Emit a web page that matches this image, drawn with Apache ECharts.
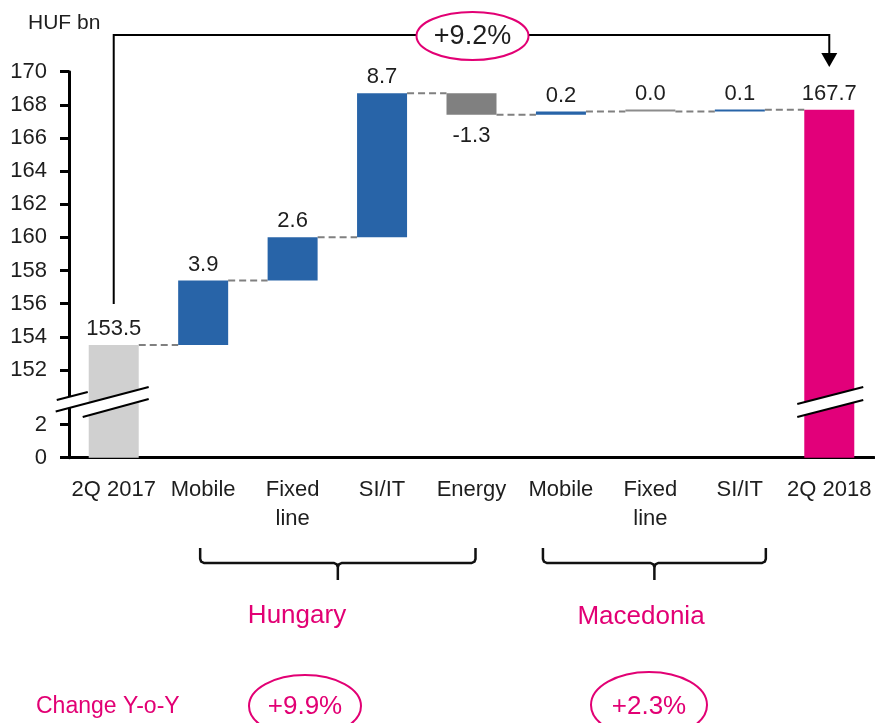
<!DOCTYPE html>
<html><head><meta charset="utf-8">
<script src="https://cdn.jsdelivr.net/npm/echarts@6/dist/echarts.min.js"></script>
<style>html,body{margin:0;padding:0;background:#fff}#c{width:875px;height:723px}</style>
</head><body><div id="c"></div>
<script>
// ---- data ----
const categories = ['2Q 2017','Mobile','Fixed\nline','SI/IT','Energy','Mobile','Fixed\nline','SI/IT','2Q 2018'];
const values = [153.5, 3.9, 2.6, 8.7, -1.3, 0.2, 0.0, 0.1, 167.7];
const kinds = ['start','delta','delta','delta','delta','delta','delta','delta','end'];
const yTickLabels = [0, 2, 152, 154, 156, 158, 160, 162, 164, 166, 168, 170];
const groupNames = ['Hungary', 'Macedonia'];
const groupChanges = ['+9.9%', '+2.3%'];
const totalChange = '+9.2%';
const unitLabel = 'HUF bn';
const changeLabel = 'Change Y-o-Y';

// ---- broken axis transform ----
const BREAK_FROM = 2, BREAK_TO = 152, BREAK_POS = 5.3;
function tr(v){
  if (v <= BREAK_FROM) return v;
  if (v >= BREAK_TO) return v - BREAK_TO + BREAK_POS;
  return BREAK_FROM + (v - BREAK_FROM) * (BREAK_POS - BREAK_FROM) / (BREAK_TO - BREAK_FROM);
}
const tickT = yTickLabels.map(tr);

const FONT = '"Liberation Sans", Arial, sans-serif';
const MAGENTA = '#E20074';
const COLORS = {start:'#D0D0D0', up:'#2864A8', down:'#808080', zero:'#8C8C8C', end:'#E2007A'};

// build waterfall rows
let running = 0;
const rows = values.map((v, i) => {
  let lo, hi;
  if (kinds[i] === 'start' || kinds[i] === 'end') { lo = 0; hi = v; running = v; }
  else { lo = Math.min(running, running + v); hi = Math.max(running, running + v); running = running + v; }
  return {i, v, lo: tr(lo), hi: tr(hi), level: tr(running), kind: kinds[i]};
});
function colorFor(r){
  if (r.kind === 'start') return COLORS.start;
  if (r.kind === 'end') return COLORS.end;
  if (r.v > 0) return COLORS.up;
  if (r.v < 0) return COLORS.down;
  return COLORS.zero;
}
const BAR_W = 50;

function renderItem(params, api){
  const i = params.dataIndex;
  const r = rows[i];
  const top = api.coord([i, r.hi]);
  const bot = api.coord([i, r.lo]);
  let y = top[1], h = bot[1] - top[1];
  if (h < 2) { y = bot[1] - 2; h = 2; }
  const children = [];
  if (i < rows.length - 1) {
    const a = api.coord([i, r.level]);
    const b = api.coord([i + 1, r.level]);
    children.push({type:'line', shape:{x1:a[0] + BAR_W/2, y1:a[1], x2:b[0] - BAR_W/2, y2:b[1]},
      style:{stroke:'#808080', lineWidth:2, lineDash:[7,4]}});
  }
  children.push({type:'rect', shape:{x: top[0] - BAR_W/2, y: y, width: BAR_W, height: h}, style:{fill: colorFor(r)}});
  const neg = r.v < 0;
  children.push({type:'text', style:{text: r.v.toFixed(1), x: top[0], y: neg ? bot[1] + 10 : y - 5,
    align:'center', verticalAlign: neg ? 'top' : 'bottom', fill:'#1e1e1e', font: '22px ' + FONT}});
  return {type:'group', children};
}

const chart = echarts.init(document.getElementById('c'), null, {renderer:'canvas'});
chart.setOption({
  animation: false,
  backgroundColor: '#fff',
  grid: {left: 69, right: 1, top: 71.7, bottom: 265.3},
  xAxis: {
    type: 'category', data: categories,
    axisLine: {lineStyle: {color: '#000', width: 3}},
    axisTick: {show: false},
    axisLabel: {color: '#1e1e1e', fontFamily: FONT, fontSize: 22, lineHeight: 29, margin: 18, interval: 0}
  },
  yAxis: {
    type: 'value', min: 0, max: tr(170),
    splitLine: {show: false},
    axisLine: {show: true, lineStyle: {color: '#000', width: 3}},
    axisTick: {show: true, length: 9, lineStyle: {color: '#000', width: 3}, customValues: tickT},
    axisLabel: {color: '#1e1e1e', fontFamily: FONT, fontSize: 22, margin: 22, customValues: tickT,
      formatter: (val) => {
        let best = 0, bd = 1e9;
        tickT.forEach((tv, k) => { const d = Math.abs(tv - val); if (d < bd) { bd = d; best = k; } });
        return String(yTickLabels[best]);
      }}
  },
  series: [{
    type: 'custom', renderItem,
    data: rows.map(r => [r.i, r.lo, r.hi]),
    encode: {x: 0, y: [1, 2]},
    z: 2
  }]
});

// ---- annotations ----
function px(ci, v){ return chart.convertToPixel({gridIndex: 0}, [ci, v]); }
const g = [];
g.push({type:'text', x: 28, y: 23, style:{text: unitLabel, font: '21px ' + FONT, fill:'#1e1e1e', align:'left', verticalAlign:'middle'}, z: 10});

// top arrow
const p0 = px(0, tr(values[0]));
const pN = px(categories.length - 1, tr(values[values.length - 1]));
const topY = 35;
g.push({type:'polyline', shape:{points:[[p0[0], p0[1] - 41],[p0[0], topY],[pN[0], topY],[pN[0], 54]]},
  style:{stroke:'#000', lineWidth:2, fill: null}, z: 10});
g.push({type:'polygon', shape:{points:[[pN[0]-8, 53],[pN[0]+8, 53],[pN[0], 67]]}, style:{fill:'#000'}, z: 10});
const pMid = px(4, 0);
g.push({type:'ellipse', shape:{cx: pMid[0] + 1, cy: 36, rx: 56, ry: 24}, style:{fill:'#fff', stroke: MAGENTA, lineWidth: 2}, z: 11});
g.push({type:'text', x: pMid[0] + 1, y: 37, style:{text: totalChange, font: '27px ' + FONT, fill:'#1e1e1e', align:'center', verticalAlign:'middle'}, z: 12});

// axis break marks
const bk = px(0, 3.3);
const bx = bk[0], by = bk[1];
function P(pts){ return pts.map(p => [bx + p[0], by + p[1]]); }
g.push({type:'polygon', shape:{points: P([[-57,-3],[-26,-11],[-26,0.5],[-57,8.5]])}, style:{fill:'#fff'}, z: 20});
g.push({type:'polygon', shape:{points: P([[-31,1.5],[35,-15.5],[35,-4],[-31,14]])}, style:{fill:'#fff'}, z: 20});
g.push({type:'line', shape:{x1:bx-57, y1:by-3, x2:bx-26, y2:by-11}, style:{stroke:'#000', lineWidth:2}, z: 21});
g.push({type:'line', shape:{x1:bx-58, y1:by+8.5, x2:bx+35, y2:by-16}, style:{stroke:'#000', lineWidth:2}, z: 21});
g.push({type:'line', shape:{x1:bx-31, y1:by+14, x2:bx+35, y2:by-4}, style:{stroke:'#000', lineWidth:2}, z: 21});
const ek = px(categories.length - 1, 3.3);
const ex = ek[0], ey = ek[1];
g.push({type:'polygon', shape:{points:[[ex-32, ey+1],[ex+34, ey-16],[ex+34, ey-3],[ex-32, ey+14]]}, style:{fill:'#fff'}, z: 20});
g.push({type:'line', shape:{x1:ex-32, y1:ey+1, x2:ex+34, y2:ey-16}, style:{stroke:'#000', lineWidth:2}, z: 21});
g.push({type:'line', shape:{x1:ex-32, y1:ey+14, x2:ex+34, y2:ey-3}, style:{stroke:'#000', lineWidth:2}, z: 21});

// group brackets (polylines with softened corners)
function bracket(x1, x2){
  const xm = (x1 + x2) / 2;
  const yt = 548, yh = 563, yb = 580;
  const st = {stroke:'#111', lineWidth:2.5, fill:null};
  return [
    {type:'polyline', shape:{points:[[x1, yt],[x1, yh-4],[x1+1, yh-1.5],[x1+4, yh],[xm-4, yh],[xm-1, yh+1.5],[xm, yh+4],[xm, yb]]}, style: st, z: 10},
    {type:'polyline', shape:{points:[[x2, yt],[x2, yh-4],[x2-1, yh-1.5],[x2-4, yh],[xm+4, yh],[xm+1, yh+1.5],[xm, yh+4]]}, style: st, z: 10}
  ];
}
const h1 = px(1, 0)[0], h4 = px(4, 0)[0], m1 = px(5, 0)[0], m3 = px(7, 0)[0];
g.push(...bracket(h1 - 3, h4 + 4));
g.push(...bracket(m1 - 18, m3 + 26));
g.push({type:'text', x: 297, y: 616, style:{text: groupNames[0], font:'26px ' + FONT, fill: MAGENTA, align:'center', verticalAlign:'middle'}, z: 10});
g.push({type:'text', x: 641, y: 617, style:{text: groupNames[1], font:'26px ' + FONT, fill: MAGENTA, align:'center', verticalAlign:'middle'}, z: 10});

// change Y-o-Y
g.push({type:'text', x: 36, y: 707, style:{text: changeLabel, font:'23px ' + FONT, fill: MAGENTA, align:'left', verticalAlign:'middle'}, z: 10});
g.push({type:'ellipse', shape:{cx: 305, cy: 706, rx: 56, ry: 31}, style:{fill:'#fff', stroke: MAGENTA, lineWidth: 2}, z: 10});
g.push({type:'text', x: 305, y: 707, style:{text: groupChanges[0], font:'26px ' + FONT, fill: MAGENTA, align:'center', verticalAlign:'middle'}, z: 11});
g.push({type:'ellipse', shape:{cx: 649, cy: 705, rx: 58, ry: 33}, style:{fill:'#fff', stroke: MAGENTA, lineWidth: 2}, z: 10});
g.push({type:'text', x: 649, y: 707, style:{text: groupChanges[1], font:'26px ' + FONT, fill: MAGENTA, align:'center', verticalAlign:'middle'}, z: 11});

chart.setOption({graphic: {elements: g}});
</script>
</body></html>
